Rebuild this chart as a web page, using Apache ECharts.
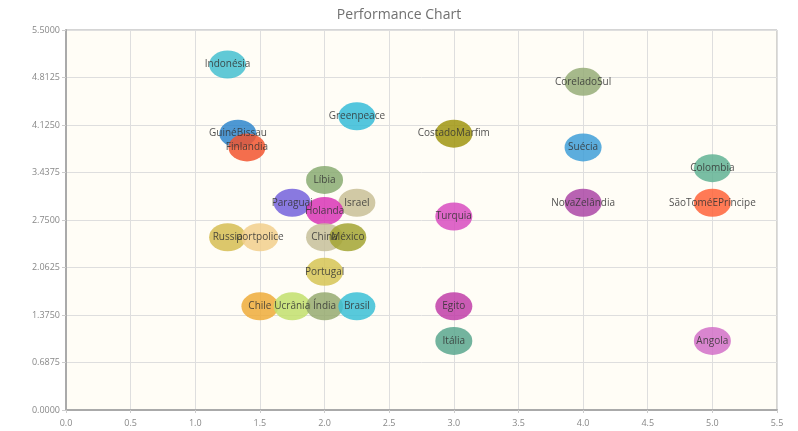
<!DOCTYPE html>
<html>
<head>
<meta charset="utf-8">
<script src="https://cdn.jsdelivr.net/npm/echarts@6/dist/echarts.min.js"></script>
<style>
  html, body { margin: 0; padding: 0; background: #fff; }
  #chart { width: 798px; height: 431px; }
</style>
</head>
<body>
<div id="chart"></div>
<script>
// point names and coordinates
const names = ['Indonésia', 'CoreladoSul', 'Greenpeace', 'GuinéBissau', 'Finlandia', 'CostadoMarfim',
  'Suécia', 'Colombia', 'Líbia', 'Paraguai', 'Israel', 'Holanda', 'Turquia', 'NovaZelândia',
  'SãoToméEPríncipe', 'Russia', 'portpolice', 'China', 'México', 'Portugal', 'Chile', 'Ucrânia',
  'Índia', 'Brasil', 'Egito', 'Itália', 'Angola'];
const xValues = [1.25, 4.0, 2.25, 1.33, 1.4, 3.0, 4.0, 5.0, 2.0, 1.75, 2.25, 2.0, 3.0, 4.0,
  5.0, 1.25, 1.5, 2.0, 2.18, 2.0, 1.5, 1.75, 2.0, 2.25, 3.0, 3.0, 5.0];
const yValues = [5.0, 4.75, 4.25, 4.0, 3.8, 4.0, 3.8, 3.5, 3.33, 3.0, 3.0, 2.88, 2.8, 3.0,
  3.0, 2.5, 2.5, 2.5, 2.5, 2.0, 1.5, 1.5, 1.5, 1.5, 1.5, 1.0, 1.0];
const yTicks = [0, 0.6875, 1.375, 2.0625, 2.75, 3.4375, 4.125, 4.8125, 5.5];

const palette = ['#45c0d0', '#97ad78', '#36bcd8', '#2f86cc', '#f2552f', '#a09510',
  '#3f9fd8', '#62b394', '#8aab72', '#7462dc', '#c9bf96', '#d935b6', '#d84cbf', '#ab46a6',
  '#ff6338', '#d6bd52', '#f2cf8c', '#c7c09a', '#a3a532', '#d6c455', '#eeab3a', '#c2df6c',
  '#97aa70', '#3bbfd6', '#c13ea8', '#5aa78e', '#d270c8'];

const chart = echarts.init(document.getElementById('chart'));

const series = names.map((n, i) => ({
  name: n,
  type: 'scatter',
  symbolSize: [37, 28],
  data: [[xValues[i], yValues[i]]],
  itemStyle: { color: palette[i], opacity: 0.85 },
  label: {
    show: true,
    position: 'inside',
    formatter: n,
    color: '#333',
    fontSize: 10,
    fontFamily: 'Open Sans'
  }
}));

chart.setOption({
  animation: false,
  title: {
    text: 'Performance Chart',
    left: 'center',
    top: 3,
    textStyle: { color: '#707070', fontSize: 14, fontWeight: 'normal', fontFamily: 'Open Sans' }
  },
  grid: {
    left: 66, right: 21, top: 30, bottom: 21,
    show: true, backgroundColor: '#fffdf6', borderColor: '#aaa', borderWidth: 1
  },
  xAxis: {
    type: 'value', min: 0, max: 5.5, interval: 0.5,
    axisLine: { show: true, lineStyle: { color: '#aaa', width: 2 } },
    axisTick: { show: true, lineStyle: { color: '#ccc' }, length: 3 },
    axisLabel: { color: '#888', fontSize: 9, fontFamily: 'Open Sans', margin: 9,
      formatter: v => v.toFixed(1) },
    splitLine: { show: true, lineStyle: { color: '#dedede', width: 1 } }
  },
  yAxis: {
    type: 'value', min: yTicks[0], max: yTicks[yTicks.length - 1], interval: yTicks[1],
    axisLine: { show: true, lineStyle: { color: '#aaa', width: 2 } },
    axisTick: { show: true, lineStyle: { color: '#ccc' }, length: 4 },
    axisLabel: { color: '#888', fontSize: 9, fontFamily: 'Open Sans', margin: 6,
      formatter: v => v.toFixed(4) },
    splitLine: { show: true, lineStyle: { color: '#dedede', width: 1 } }
  },
  series: series
});
</script>
</body>
</html>
